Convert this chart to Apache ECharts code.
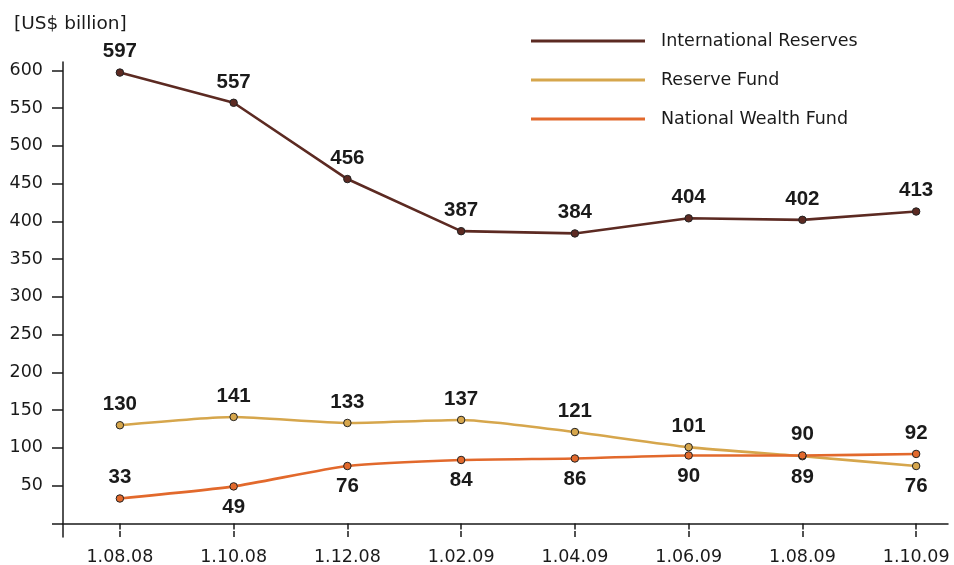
<!DOCTYPE html>
<html>
<head>
<meta charset="utf-8">
<script src="https://cdn.jsdelivr.net/npm/echarts@6/dist/echarts.min.js"></script>
<style>
  html, body { margin: 0; padding: 0; background: #fff; }
  #chart { width: 954px; height: 565px; }
</style>
</head>
<body>
<div id="chart"></div>
<script>
// dates on the x axis
const dates = ['1.08.08', '1.10.08', '1.12.08', '1.02.09', '1.04.09', '1.06.09', '1.08.09', '1.10.09'];
const yTicks = [0, 50, 100, 150, 200, 250, 300, 350, 400, 450, 500, 550, 600];

const intlReserves = [597, 557, 456, 387, 384, 404, 402, 413];
const reserveFund = [130, 141, 133, 137, 121, 101, 89, 76];
const wealthFund = [33, 49, 76, 84, 86, 90, 90, 92];

const font = 'DejaVu Sans';
const boldFont = 'Liberation Sans';
const ink = '#1a1a1a';

// which points get their label under the marker
const rfBelow = [6, 7];
const nwfBelow = [1, 2, 3, 4, 5];

function points(values, below) {
  return values.map((v, i) => ({
    value: [i, v],
    label: { position: below.indexOf(i) >= 0 ? 'bottom' : 'top' }
  }));
}

function lineSeries(name, values, color, below, smooth) {
  return {
    name: name,
    type: 'line',
    data: points(values, below),
    smooth: smooth,
    symbol: 'circle',
    symbolSize: 7.5,
    lineStyle: { color: color, width: 2.6 },
    itemStyle: { color: color, borderColor: '#222', borderWidth: 1 },
    label: {
      show: true,
      distance: 6,
      formatter: p => p.value[1],
      fontFamily: boldFont,
      fontWeight: 'bold',
      fontSize: 20.5,
      color: ink
    },
    emphasis: { disabled: true }
  };
}

const ticksX = dates.map((d, i) => i);

const chart = echarts.init(document.getElementById('chart'));
chart.setOption({
  animation: false,
  title: {
    text: '[US$ billion]',
    left: 9,
    top: 10,
    textStyle: { fontFamily: font, fontWeight: 'normal', fontSize: 18.5, color: ink }
  },
  legend: {
    orient: 'vertical',
    left: 526,
    top: 27,
    itemWidth: 114,
    itemHeight: 18,
    itemGap: 21,
    icon: 'path://M0,8 L100,8 L100,10.5 L0,10.5 Z',
    itemStyle: { borderWidth: 0 },
    textStyle: { fontFamily: font, fontSize: 17.5, lineHeight: 18, color: ink, padding: [0, 0, 0, 11] },
    data: ['International Reserves', 'Reserve Fund', 'National Wealth Fund']
  },
  grid: { left: 63, right: 6, top: 62, bottom: 28, containLabel: false, outerBoundsMode: 'none' },
  xAxis: [{
    type: 'value',
    min: -0.5,
    max: 7.28,
    splitLine: { show: false },
    axisLine: { onZero: true, lineStyle: { color: ink, width: 1.5 } },
    axisTick: { show: true, length: 6, customValues: ticksX, lineStyle: { color: ink, width: 1.5 } },
    axisLabel: {
      customValues: ticksX,
      formatter: v => dates[v],
      margin: 11,
      fontFamily: font,
      fontSize: 17.5,
      color: ink
    }
  }, {
    type: 'value',
    min: -0.5,
    max: 7.28,
    position: 'bottom',
    splitLine: { show: false },
    axisLine: { show: false, onZero: true },
    axisTick: { show: true, inside: true, length: 6, customValues: ticksX, lineStyle: { color: ink, width: 1.5 } },
    axisLabel: { show: false }
  }],
  yAxis: {
    type: 'value',
    min: -18,
    max: 611,
    position: 'left',
    splitLine: { show: false },
    axisLine: { show: true, onZero: false, lineStyle: { color: ink, width: 1.5 } },
    axisTick: { show: true, length: 11, customValues: yTicks, lineStyle: { color: ink, width: 1.5 } },
    axisLabel: {
      customValues: yTicks.filter(v => v > 0),
      margin: 20,
      fontFamily: font,
      fontSize: 17.5,
      color: ink
    }
  },
  series: [
    lineSeries('International Reserves', intlReserves, '#5c2a22', [], false),
    lineSeries('Reserve Fund', reserveFund, '#d6a64c', rfBelow, 0.2),
    lineSeries('National Wealth Fund', wealthFund, '#e2692c', nwfBelow, 0.2)
  ]
});
</script>
</body>
</html>
